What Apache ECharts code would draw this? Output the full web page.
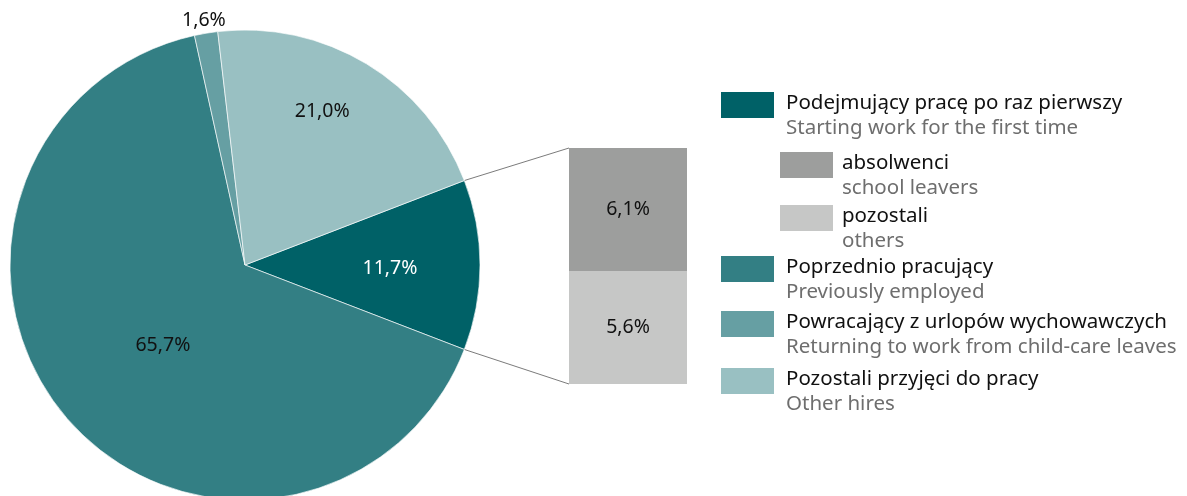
<!DOCTYPE html>
<html>
<head>
<meta charset="utf-8">
<script src="https://cdn.jsdelivr.net/npm/echarts@6/dist/echarts.min.js"></script>
<style>
html,body{margin:0;padding:0;background:#fff;}
#c{width:1187px;height:496px;}
</style>
</head>
<body>
<div id="c"></div>
<script>
// ---- data ----
const categories = ['Podejmujący pracę po raz pierwszy', 'Poprzednio pracujący', 'Powracający z urlopów wychowawczych', 'Pozostali przyjęci do pracy'];
const categoriesEn = ['Starting work for the first time', 'Previously employed', 'Returning to work from child-care leaves', 'Other hires'];
const pieValues = [11.7, 65.7, 1.6, 21.0];
const subCategories = ['absolwenci', 'pozostali'];
const subCategoriesEn = ['school leavers', 'others'];
const subValues = [6.1, 5.6];

// ---- style / layout ----
const pieColors = ['#006167', '#337f84', '#669fa3', '#99c0c2'];
const subColors = ['#9d9e9d', '#c6c7c6'];
const FONT = 'Noto Sans';
const LABEL_SIZE = 19.5;
const LEGEND_SIZE = 20.5;
const cx = 245, cy = 265, R = 235;
const labelPlace = [[0.617, -1.2], [0.488, 3.6], [1.056, 0], [0.733, 4.5]];
const barGrid = {left: 569, top: 148, width: 118, height: 236};

const total = pieValues.reduce((a, b) => a + b, 0);
const subTotal = subValues.reduce((a, b) => a + b, 0);
const startAngle = pieValues[0] / total * 360 / 2;

function fmt(v) { return v.toFixed(1).replace('.', ',') + '%'; }

function midAngle(i) {
  let before = 0;
  for (let k = 0; k < i; k++) before += pieValues[k];
  return startAngle - (before + pieValues[i] / 2) / total * 360;
}

const chart = echarts.init(document.getElementById('c'), null, {renderer: 'canvas'});

const barLabel = {show: true, position: 'inside', fontFamily: FONT, fontSize: LABEL_SIZE, color: '#111', formatter: p => fmt(p.value)};

const option = {
  animation: false,
  backgroundColor: '#fff',
  textStyle: {fontFamily: FONT},
  grid: Object.assign({containLabel: false}, barGrid),
  xAxis: {type: 'category', data: [''], show: false},
  yAxis: {type: 'value', min: 0, max: subTotal, show: false},
  series: [
    {
      type: 'pie',
      center: [cx, cy],
      radius: [0, R],
      startAngle: startAngle,
      clockwise: true,
      silent: true,
      itemStyle: {borderColor: 'rgba(255,255,255,0.8)', borderWidth: 0.8},
      label: {
        show: true,
        position: 'inside',
        fontFamily: FONT,
        fontSize: LABEL_SIZE,
        color: '#111',
        formatter: p => fmt(p.value)
      },
      labelLine: {show: false},
      labelLayout: function (params) {
        const i = params.dataIndex;
        const a = (midAngle(i) + labelPlace[i][1]) * Math.PI / 180;
        const r = labelPlace[i][0] * R;
        return {x: cx + r * Math.cos(a), y: cy - r * Math.sin(a), align: 'center', verticalAlign: 'middle'};
      },
      data: pieValues.map((v, i) => ({
        name: categories[i],
        value: v,
        itemStyle: {color: pieColors[i]},
        label: i === 0 ? {color: '#fff'} : {}
      }))
    },
    // stacked bar: bottom = pozostali, top = absolwenci
    {
      type: 'bar', stack: 'sub', barWidth: '100%', silent: true,
      name: subCategories[1],
      itemStyle: {color: subColors[1]},
      label: barLabel,
      data: [subValues[1]]
    },
    {
      type: 'bar', stack: 'sub', barWidth: '100%', silent: true,
      name: subCategories[0],
      itemStyle: {color: subColors[0]},
      label: barLabel,
      data: [subValues[0]]
    }
  ]
};
chart.setOption(option);

// connector lines from pie slice edges to bar corners
const a0 = startAngle * Math.PI / 180;
const pTop = [cx + R * Math.cos(a0), cy - R * Math.sin(a0)];
const pBot = [cx + R * Math.cos(-a0), cy - R * Math.sin(-a0)];
const barTopY = chart.convertToPixel({gridIndex: 0}, [0, subTotal])[1];
const barBotY = chart.convertToPixel({gridIndex: 0}, [0, 0])[1];
const barLeftX = chart.convertToPixel({gridIndex: 0}, [0, 0])[0] - barGrid.width / 2;

const graphics = [
  {type: 'line', silent: true, shape: {x1: pTop[0], y1: pTop[1], x2: barLeftX, y2: barTopY}, style: {stroke: '#595959', lineWidth: 0.8}},
  {type: 'line', silent: true, shape: {x1: pBot[0], y1: pBot[1], x2: barLeftX, y2: barBotY}, style: {stroke: '#595959', lineWidth: 0.8}}
];

// legend (custom, two-line entries)
const legendItems = [
  {pl: categories[0], en: categoriesEn[0], color: pieColors[0], x: 721, y: 92},
  {pl: subCategories[0], en: subCategoriesEn[0], color: subColors[0], x: 780, y: 152},
  {pl: subCategories[1], en: subCategoriesEn[1], color: subColors[1], x: 780, y: 205},
  {pl: categories[1], en: categoriesEn[1], color: pieColors[1], x: 721, y: 256},
  {pl: categories[2], en: categoriesEn[2], color: pieColors[2], x: 721, y: 311},
  {pl: categories[3], en: categoriesEn[3], color: pieColors[3], x: 721, y: 368}
];
legendItems.forEach((it, i) => {
  graphics.push({type: 'rect', silent: true, shape: {x: it.x, y: it.y, width: 53, height: 26}, style: {fill: it.color}});
  graphics.push({
    type: 'text', silent: true,
    x: it.x + (i === 1 || i === 2 ? 62 : 65), y: it.y - 1,
    style: {
      text: '{a|' + it.pl + '}\n{b|' + it.en + '}',
      verticalAlign: 'top', align: 'left',
      rich: {
        a: {fontFamily: FONT, fontSize: LEGEND_SIZE, lineHeight: 25, fill: '#111'},
        b: {fontFamily: FONT, fontSize: LEGEND_SIZE, lineHeight: 25, fill: '#6e6e6e'}
      }
    }
  });
});
chart.setOption({graphic: graphics});
</script>
</body>
</html>
